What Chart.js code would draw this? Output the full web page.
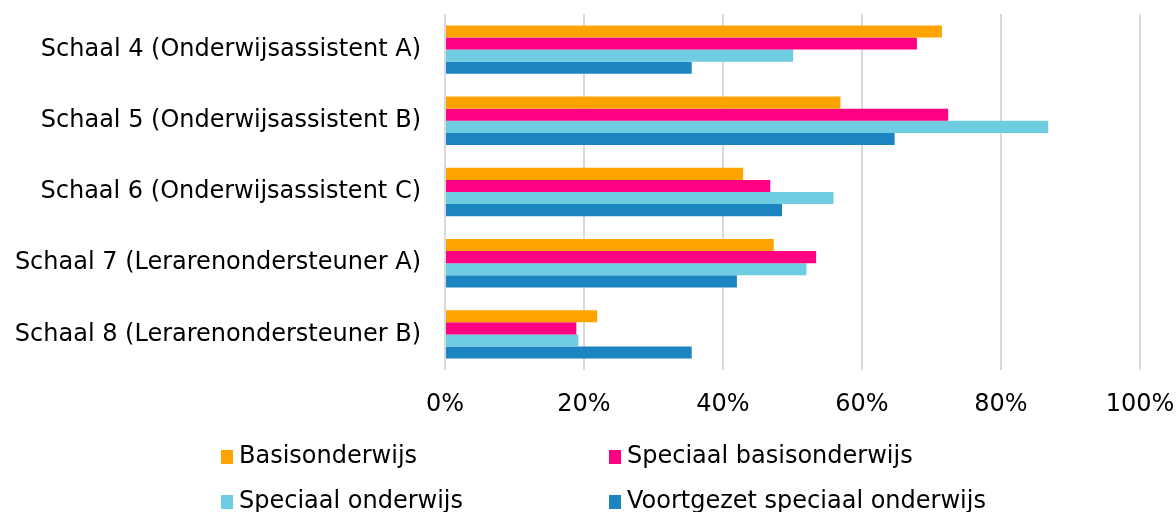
<!DOCTYPE html>
<html>
<head>
<meta charset="utf-8">
<script src="https://cdn.jsdelivr.net/npm/chart.js@4/dist/chart.umd.min.js"></script>
<style>
  html, body { margin: 0; padding: 0; background: #fff; }
  #wrap { position: relative; width: 1176px; height: 512px; overflow: hidden; }
  #chart { position: absolute; left: 0; top: 0; }
  .legend-item {
    position: absolute;
    font-family: "DejaVu Sans", Verdana, sans-serif;
    font-size: 24px;
    color: #000;
    white-space: nowrap;
    line-height: 28px;
  }
  .legend-item span.box {
    display: inline-block;
    width: 12px;
    height: 14px;
    margin-right: 6px;
    vertical-align: -1px;
  }
</style>
</head>
<body>
<div id="wrap">
  <canvas id="chart" width="1176" height="512"></canvas>
  <div id="legend"></div>
</div>
<script>
// Categorieën (y-as)
const categories = [
  "Schaal 4 (Onderwijsassistent A)",
  "Schaal 5 (Onderwijsassistent B)",
  "Schaal 6 (Onderwijsassistent C)",
  "Schaal 7 (Lerarenondersteuner A)",
  "Schaal 8 (Lerarenondersteuner B)",
];

// Reeksen (percentages)
const basisonderwijs = [71.5, 56.9, 42.9, 47.3, 21.9];
const speciaalBasisonderwijs = [67.9, 72.4, 46.8, 53.4, 18.9];
const speciaalOnderwijs = [50.1, 86.8, 55.9, 52.0, 19.2];
const voortgezetSpeciaal = [35.5, 64.7, 48.5, 42.0, 35.5];

const seriesNames = [
  "Basisonderwijs",
  "Speciaal basisonderwijs",
  "Speciaal onderwijs",
  "Voortgezet speciaal onderwijs",
];
const seriesColors = ["#ffa300", "#ff0083", "#6ecde0", "#1c84c0"];

// X-as ticks
const xTicks = [0, 20, 40, 60, 80, 100];

const FONT = "DejaVu Sans";

const datasets = [basisonderwijs, speciaalBasisonderwijs, speciaalOnderwijs, voortgezetSpeciaal].map(
  (values, i) => ({
    label: seriesNames[i],
    data: values,
    backgroundColor: seriesColors[i],
    borderWidth: 0,
    categoryPercentage: 0.68,
    barPercentage: 1.0,
  })
);

const ctx = document.getElementById("chart").getContext("2d");
new Chart(ctx, {
  type: "bar",
  data: { labels: categories, datasets: datasets },
  options: {
    indexAxis: "y",
    responsive: false,
    animation: false,
    layout: { padding: { top: 14, right: 36, bottom: 92, left: 0 } },
    plugins: {
      legend: { display: false },
      tooltip: { enabled: false },
    },
    scales: {
      x: {
        min: xTicks[0],
        max: xTicks[xTicks.length - 1],
        afterBuildTicks: (scale) => {
          scale.ticks = xTicks.map((v) => ({ value: v }));
        },
        afterFit: (scale) => {
          scale.height = 50;
          scale.paddingLeft = 0;
          scale.paddingRight = 0;
        },
        grid: { color: "#d9d9d9", lineWidth: 2, drawTicks: false },
        border: { display: false },
        ticks: {
          padding: 20,
          color: "#000",
          font: { family: FONT, size: 24 },
          callback: (v) => v + "%",
        },
      },
      y: {
        afterFit: (scale) => {
          scale.width = 445;
          scale.paddingTop = 0;
          scale.paddingBottom = 0;
        },
        grid: { display: false, drawTicks: false },
        border: { display: false },
        ticks: {
          padding: 24,
          color: "#000",
          font: { family: FONT, size: 24 },
        },
      },
    },
  },
});

// Legenda in twee kolommen
const legendPos = [
  [221, 441],
  [609, 441],
  [221, 486],
  [609, 486],
];
const legend = document.getElementById("legend");
seriesNames.forEach((name, i) => {
  const item = document.createElement("div");
  item.className = "legend-item";
  item.style.left = legendPos[i][0] + "px";
  item.style.top = legendPos[i][1] + "px";
  item.innerHTML = '<span class="box" style="background:' + seriesColors[i] + '"></span>' + name;
  legend.appendChild(item);
});
</script>
</body>
</html>
